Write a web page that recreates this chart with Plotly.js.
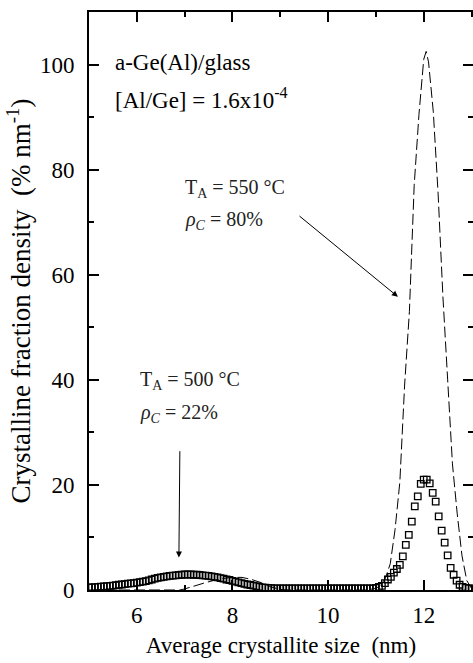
<!DOCTYPE html>
<html>
<head>
<meta charset="utf-8">
<script src="https://cdn.plot.ly/plotly-3.0.1.min.js"></script>
<style>html,body{margin:0;padding:0;background:#fff}#chart{width:473px;height:663px}</style>
</head>
<body>
<div id="chart"></div>
<script>
// 500 °C data (open squares)
const sqX = [5.0,5.0625,5.125,5.1875,5.25,5.3125,5.375,5.4375,5.5,5.5625,5.625,5.6875,5.75,5.8125,5.875,5.9375,
6.0,6.0625,6.125,6.1875,6.25,6.3125,6.375,6.4375,6.5,6.5625,6.625,6.6875,6.75,6.8125,6.875,6.9375,
7.0,7.0625,7.125,7.1875,7.25,7.3125,7.375,7.4375,7.5,7.5625,7.625,7.6875,7.75,7.8125,7.875,7.9375,
8.0,8.0625,8.125,8.1875,8.25,8.3125,8.375,8.4375,8.5,8.5625,8.625,8.6875,8.75,8.8125,8.875,8.9375,
9.0,9.0625,9.125,9.1875,9.25,9.3125,9.375,9.4375,9.5,9.5625,9.625,9.6875,9.75,9.8125,9.875,9.9375,
10.0,10.0625,10.125,10.1875,10.25,10.3125,10.375,10.4375,10.5,10.5625,10.625,10.6875,10.75,10.8125,10.875,10.9375,
11.0,11.0625,11.125,11.1875,11.25,11.3125,11.375,11.4375,11.5,11.5625,11.625,11.6875,11.75,11.8125,11.875,11.9375,
12.0,12.0625,12.125,12.1875,12.25,12.3125,12.375,12.4375,12.5,12.5625,12.625,12.6875,12.75,12.8125,12.875,12.9375,13.0];
const sqY = [0.5,0.5,0.55,0.6,0.65,0.7,0.75,0.8,0.85,0.9,1.0,1.05,1.1,1.2,1.25,1.3,
1.4,1.5,1.6,1.7,1.85,2.0,2.15,2.3,2.4,2.5,2.6,2.7,2.75,2.8,2.85,2.9,
2.95,2.95,2.95,2.9,2.9,2.85,2.8,2.75,2.7,2.6,2.5,2.4,2.25,2.15,2.0,1.9,
1.75,1.6,1.45,1.3,1.15,1.05,0.95,0.85,0.75,0.6,0.5,0.45,0.4,0.35,0.3,0.3,
0.3,0.3,0.3,0.3,0.3,0.3,0.3,0.3,0.3,0.3,0.3,0.3,0.3,0.3,0.3,0.3,
0.3,0.3,0.3,0.3,0.3,0.3,0.3,0.3,0.3,0.3,0.3,0.3,0.3,0.3,0.3,0.3,
0.4,0.6,0.8,1.3,2.0,2.5,3.3,4.0,4.8,6.4,8.6,10.5,13.0,15.9,17.8,20.2,
21.0,21.0,20.3,18.5,16.8,14.0,11.3,9.0,6.6,4.2,2.9,1.8,1.0,0.6,0.4,0.3,0.3];

// 550 °C data (dashed line)
const dashX = [5.0,6.9,7.0,7.2,7.4,7.6,7.8,8.0,8.2,8.4,8.6,8.8,9.0,9.2,10.8,
11.0,11.1,11.2,11.3,11.4,11.5,11.6,11.7,11.8,11.9,12.0,12.05,12.1,12.2,12.3,12.4,12.5,12.6,12.7,12.8,12.9,13.0];
const dashY = [0,0,0.2,0.8,1.3,1.8,2.2,2.4,2.4,2.0,1.4,0.6,0.1,0,0,
0.3,0.9,2.3,5.0,11.5,20.5,39.0,53.0,77.0,90.5,101.0,102.5,100.5,91.0,75.5,56.0,40.0,24.0,14.5,6.5,1.8,0.3];

const xTitle = 'Average crystallite size  (nm)';
const yTitle = 'Crystalline fraction density  (% nm<sup>-1</sup>)';
const sampleText = ['a-Ge(Al)/glass', '[Al/Ge] = 1.6x10<sup>-4</sup>'];
const label550 = ['T<sub>A</sub> = 550 °C', '<i>ρ</i><sub><i>C</i></sub> = 80%'];
const label500 = ['T<sub>A</sub> = 500 °C', '<i>ρ</i><sub><i>C</i></sub> = 22%'];

const serif = 'Liberation Serif, Times New Roman, serif';

const traces = [
  {x: dashX, y: dashY, type: 'scatter', mode: 'lines',
   line: {color: '#000', width: 1, dash: '11px,4px'}, hoverinfo: 'skip'},
  {x: sqX, y: sqY, type: 'scatter', mode: 'markers',
   marker: {symbol: 'square-open', size: 6.5, color: '#000', line: {width: 1.3, color: '#000'}}, hoverinfo: 'skip'},
  {x: [], y: [], yaxis: 'y2', type: 'scatter', mode: 'markers', hoverinfo: 'skip'}
];

const tickFont = {family: serif, size: 23, color: '#000'};
const annFont = {family: serif, size: 23, color: '#000'};
const smallFont = {family: serif, size: 20, color: '#222'};

const layout = {
  width: 473, height: 663,
  margin: {l: 89, r: 0, t: 12, b: 73},
  paper_bgcolor: '#fff', plot_bgcolor: '#fff',
  showlegend: false,
  xaxis: {
    range: [5, 13.03], showgrid: false, zeroline: false,
    showline: true, linewidth: 2, linecolor: '#000', mirror: 'ticks',
    ticks: 'inside', ticklen: 10, tickwidth: 2, tickcolor: '#000',
    tick0: 0, dtick: 2, ticklabelstandoff: 3,
    minor: {ticks: 'inside', dtick: 1, ticklen: 5, tickwidth: 2, tickcolor: '#000'},
    tickfont: tickFont,
    title: {text: xTitle, font: {family: serif, size: 23, color: '#000'}, standoff: 10}
  },
  yaxis: {
    range: [0, 110], showgrid: false, zeroline: false,
    showline: true, linewidth: 2, linecolor: '#000', mirror: false,
    ticks: 'inside', ticklen: 10, tickwidth: 2, tickcolor: '#000',
    tick0: 0, dtick: 20, ticklabelstandoff: 8,
    minor: {ticks: 'inside', dtick: 10, ticklen: 5, tickwidth: 2, tickcolor: '#000'},
    tickfont: tickFont,
    title: {text: yTitle, font: {family: serif, size: 27, color: '#000'}, standoff: 1}
  },
  yaxis2: {
    overlaying: 'y', side: 'right', matches: 'y', range: [0, 110],
    showgrid: false, zeroline: false, showline: false, showticklabels: false,
    ticks: 'inside', ticklen: 10, tickwidth: 2, tickcolor: '#000',
    tick0: 0, dtick: 20,
    minor: {ticks: 'inside', dtick: 10, ticklen: 5, tickwidth: 2, tickcolor: '#000'}
  },
  annotations: [
    {x: 5.5, y: 100.3, xref: 'x', yref: 'y', text: sampleText[0], showarrow: false,
     xanchor: 'left', yanchor: 'middle', font: annFont},
    {x: 5.5, y: 93.5, xref: 'x', yref: 'y', text: sampleText[1], showarrow: false,
     xanchor: 'left', yanchor: 'middle', font: annFont},
    {x: 6.97, y: 76.5, xref: 'x', yref: 'y', text: label550[0], showarrow: false,
     xanchor: 'left', yanchor: 'middle', font: smallFont},
    {x: 6.97, y: 70.4, xref: 'x', yref: 'y', text: label550[1], showarrow: false,
     xanchor: 'left', yanchor: 'middle', font: smallFont},
    {x: 6.03, y: 39.8, xref: 'x', yref: 'y', text: label500[0], showarrow: false,
     xanchor: 'left', yanchor: 'middle', font: smallFont},
    {x: 6.03, y: 33.6, xref: 'x', yref: 'y', text: label500[1], showarrow: false,
     xanchor: 'left', yanchor: 'middle', font: smallFont},
    {x: 11.46, y: 55.8, ax: 9.37, ay: 71.4, xref: 'x', yref: 'y', axref: 'x', ayref: 'y',
     text: '', showarrow: true, arrowhead: 2, arrowsize: 1.2, arrowwidth: 1, arrowcolor: '#000'},
    {x: 6.88, y: 6.2, ax: 6.90, ay: 26.7, xref: 'x', yref: 'y', axref: 'x', ayref: 'y',
     text: '', showarrow: true, arrowhead: 2, arrowsize: 1.2, arrowwidth: 1, arrowcolor: '#000'}
  ]
};

Plotly.newPlot('chart', traces, layout, {staticPlot: true, displayModeBar: false});
</script>
</body>
</html>
